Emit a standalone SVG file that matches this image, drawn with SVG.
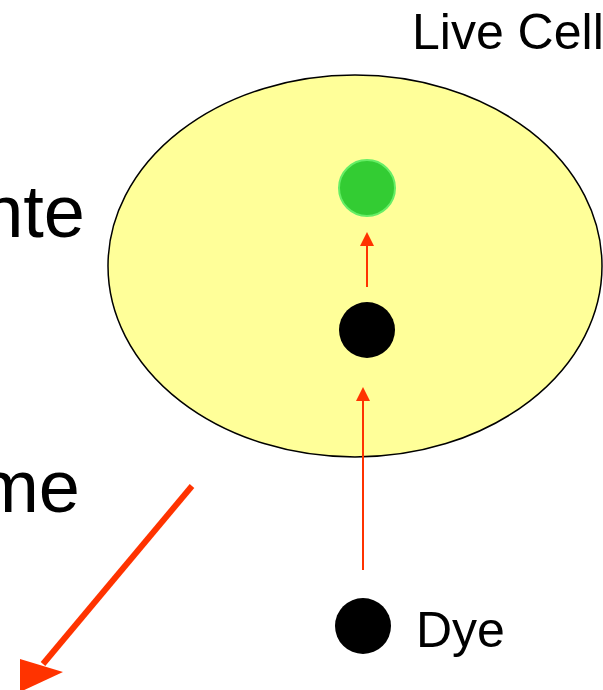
<svg xmlns="http://www.w3.org/2000/svg" width="603" height="690" viewBox="0 0 603 690">
  <style>
    .label { font-family: "Liberation Sans", Arial, sans-serif; fill: #000; }
    .big { font-size: 74px; }
    .mid { font-size: 50px; }
    .dot { fill: #000; }
    .flow { stroke: #ff3300; fill: none; }
    .head { fill: #ff3300; }
  </style>
  <rect width="603" height="690" fill="#fff"/>

  <!-- cut-off side labels -->
  <text class="label big" x="85" y="237" text-anchor="end">nte</text>
  <text class="label big" x="80" y="512" text-anchor="end">me</text>

  <g id="cell">
    <ellipse cx="355" cy="266" rx="247" ry="191" fill="#ffff99" stroke="#000" stroke-width="1.5"/>
    <text class="label mid" x="412" y="49">Live Cell</text>
  </g>

  <g id="fluorescent">
    <circle cx="367" cy="188" r="28" fill="#33cc33" stroke="#66ee66" stroke-width="2"/>
  </g>

  <g id="inside-dye">
    <circle class="dot" cx="367" cy="330" r="28"/>
  </g>

  <g id="dye">
    <circle class="dot" cx="363" cy="626" r="28"/>
    <text class="label mid" x="416" y="647">Dye</text>
  </g>

  <g id="connectors">
    <!-- dye entering the cell -->
    <line class="flow" x1="363" y1="570" x2="363" y2="399" stroke-width="2"/>
    <polygon class="head" points="363,387 356,401 370,401"/>
    <!-- conversion inside the cell -->
    <line class="flow" x1="367" y1="287" x2="367" y2="244" stroke-width="2"/>
    <polygon class="head" points="367,232 360,246 374,246"/>
    <!-- outgoing diagonal arrow -->
    <line class="flow" x1="192" y1="486" x2="43" y2="664" stroke-width="6"/>
    <polygon class="head" points="20,659 63,672 20,692"/>
  </g>
</svg>
